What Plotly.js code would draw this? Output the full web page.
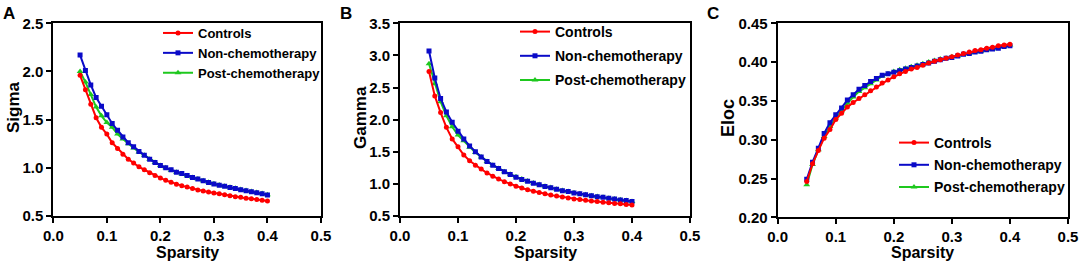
<!DOCTYPE html>
<html>
<head>
<meta charset="utf-8">
<script src="https://cdn.plot.ly/plotly-3.0.1.min.js"></script>
<style>html,body{margin:0;padding:0;background:#fff;}#chart{width:1084px;height:267px;}</style>
</head>
<body>
<div id="chart"></div>
<script>
// ---- data ----
const sparsity = [0.05,0.06,0.07,0.08,0.09,0.10,0.11,0.12,0.13,0.14,0.15,0.16,0.17,0.18,0.19,0.20,0.21,0.22,0.23,0.24,0.25,0.26,0.27,0.28,0.29,0.30,0.31,0.32,0.33,0.34,0.35,0.36,0.37,0.38,0.39,0.40];
const groupNames = ["Controls", "Non-chemotherapy", "Post-chemotherapy"];

const sigmaControls = [1.96,1.81,1.66,1.52,1.42,1.35,1.26,1.20,1.14,1.09,1.05,1.01,0.98,0.95,0.92,0.895,0.87,0.85,0.83,0.815,0.80,0.785,0.77,0.76,0.75,0.74,0.73,0.72,0.71,0.70,0.695,0.685,0.68,0.67,0.663,0.655];
const sigmaNonChemo = [2.17,2.01,1.86,1.73,1.64,1.55,1.46,1.39,1.32,1.26,1.22,1.17,1.13,1.09,1.055,1.025,1.00,0.98,0.955,0.94,0.92,0.90,0.883,0.867,0.848,0.832,0.82,0.808,0.796,0.785,0.773,0.762,0.752,0.742,0.73,0.718];
const sigmaPostChemo = [2.00,1.89,1.76,1.63,1.54,1.47,1.42,1.35,1.30,1.25,1.205,1.165,1.13,1.09,1.055,1.025,1.00,0.975,0.955,0.935,0.918,0.90,0.883,0.867,0.85,0.835,0.822,0.81,0.798,0.787,0.776,0.765,0.755,0.745,0.733,0.72];

const gammaControls = [2.75,2.37,2.11,1.88,1.70,1.58,1.45,1.36,1.29,1.23,1.17,1.12,1.075,1.035,1.00,0.965,0.935,0.91,0.885,0.865,0.845,0.825,0.81,0.795,0.78,0.765,0.755,0.745,0.735,0.725,0.715,0.705,0.695,0.69,0.68,0.67];
const gammaNonChemo = [3.07,2.65,2.33,2.12,1.96,1.82,1.70,1.59,1.50,1.42,1.35,1.29,1.24,1.19,1.145,1.105,1.07,1.04,1.01,0.985,0.96,0.94,0.915,0.895,0.88,0.86,0.845,0.83,0.815,0.80,0.79,0.775,0.765,0.75,0.74,0.725];
const gammaPostChemo = [2.87,2.56,2.28,2.06,1.89,1.76,1.67,1.57,1.49,1.42,1.35,1.29,1.24,1.19,1.15,1.11,1.075,1.045,1.015,0.99,0.965,0.942,0.918,0.898,0.88,0.862,0.846,0.83,0.816,0.802,0.79,0.777,0.765,0.752,0.74,0.727];

const elocControls = [0.246,0.269,0.286,0.302,0.313,0.326,0.334,0.342,0.348,0.353,0.358,0.363,0.368,0.373,0.377,0.381,0.385,0.388,0.391,0.393,0.396,0.399,0.401,0.403,0.405,0.407,0.409,0.411,0.413,0.415,0.416,0.418,0.419,0.421,0.422,0.423];
const elocNonChemo = [0.249,0.271,0.289,0.308,0.322,0.332,0.341,0.351,0.358,0.365,0.370,0.375,0.379,0.383,0.385,0.387,0.389,0.391,0.393,0.395,0.397,0.399,0.401,0.403,0.405,0.406,0.408,0.410,0.411,0.413,0.414,0.416,0.417,0.418,0.420,0.421];
const elocPostChemo = [0.242,0.268,0.287,0.304,0.317,0.328,0.337,0.347,0.355,0.362,0.367,0.372,0.377,0.382,0.385,0.388,0.390,0.392,0.394,0.396,0.398,0.400,0.402,0.404,0.405,0.407,0.408,0.410,0.411,0.413,0.414,0.416,0.417,0.419,0.420,0.422];

const xTicks = [0.0,0.1,0.2,0.3,0.4,0.5];
const sigmaTicks = [0.5,1.0,1.5,2.0,2.5];
const gammaTicks = [0.5,1.0,1.5,2.0,2.5,3.0,3.5];
const elocTicks = [0.20,0.25,0.30,0.35,0.40,0.45];

// ---- styling ----
const FONT = "Liberation Sans, Arial, sans-serif";
const W = 1084, H = 267;
const styles = [
  {color:"#ff0000", symbol:"circle", size:5, rank:1},
  {color:"#0a0ac8", symbol:"square", size:5, rank:2},
  {color:"#1ec81e", symbol:"triangle-up", size:6, rank:3}
];
const drawOrder = [2,1,0];

const panels = [
  {ys:[sigmaControls,sigmaNonChemo,sigmaPostChemo], ax:"", legend:"legend"},
  {ys:[gammaControls,gammaNonChemo,gammaPostChemo], ax:"2", legend:"legend2"},
  {ys:[elocControls,elocNonChemo,elocPostChemo], ax:"3", legend:"legend3"}
];

const traces = [];
panels.forEach((p, pi) => {
  drawOrder.forEach(i => {
    const s = styles[i];
    traces.push({
      type:"scatter", mode:"lines+markers",
      x: sparsity, y: p.ys[i], name: groupNames[i],
      xaxis:"x"+p.ax, yaxis:"y"+p.ax, legend:p.legend, legendrank:s.rank,
      legendgroup:"p"+pi+"g"+i,
      line:{color:s.color, width:2},
      marker:{color:s.color, symbol:s.symbol, size:s.size},
      hoverinfo:"skip"
    });
  });
});

function px(v){return v/W;}
function py(v){return 1 - v/H;}

const tickFont = {family:FONT, size:15, color:"#000", weight:"bold"};
function xa(l, r){
  return {domain:[px(l),px(r)], range:[0,0.5], tickvals:xTicks, tickformat:".1f",
    showline:true, mirror:true, linewidth:2, linecolor:"#000", ticks:"outside", ticklen:5, tickwidth:2, tickcolor:"#000",
    showgrid:false, zeroline:false, tickfont:tickFont, fixedrange:true};
}
function ya(t, b, range, tv, fmt, anchor){
  return {domain:[py(b),py(t)], range:range, tickvals:tv, tickformat:fmt,
    showline:true, mirror:true, linewidth:2, linecolor:"#000", ticks:"outside", ticklen:5, tickwidth:2, tickcolor:"#000",
    showgrid:false, zeroline:false, tickfont:tickFont, fixedrange:true, anchor:anchor};
}

function leg(x, y, size, gap){
  return {x:px(x), y:py(y), xanchor:"left", yanchor:"top", bgcolor:"rgba(0,0,0,0)",
    font:{family:FONT, size:size, color:"#000", weight:"bold"}, itemwidth:30, tracegroupgap:gap, traceorder:"grouped"};
}

function ann(text, x, y, size, angle, xanchor){
  return {text:text, x:px(x), y:py(y), xref:"paper", yref:"paper", showarrow:false,
    xanchor:xanchor||"center", yanchor:"middle", textangle:angle||0,
    font:{family:FONT, size:size, color:"#000", weight:"bold"}};
}

const layout = {
  width:W, height:H, margin:{l:0,r:0,t:0,b:0}, paper_bgcolor:"#fff", plot_bgcolor:"#fff",
  showlegend:true,
  xaxis: Object.assign(xa(53.3,321), {anchor:"y"}),
  yaxis: ya(23.3,216,[0.5,2.5],sigmaTicks,".1f","x"),
  xaxis2: Object.assign(xa(400,690), {anchor:"y2"}),
  yaxis2: ya(23.3,216,[0.5,3.5],gammaTicks,".1f","x2"),
  xaxis3: Object.assign(xa(777.7,1068), {anchor:"y3"}),
  yaxis3: ya(23.3,217.3,[0.2,0.45],elocTicks,".2f","x3"),
  legend: leg(158, 18, 13, 0),
  legend2: leg(515, 16, 14, 3),
  legend3: leg(894, 127, 14, 1),
  annotations: [
    ann("A", 9, 13, 17), ann("B", 346, 13, 17), ann("C", 713, 13, 17),
    ann("Sigma", 13, 107, 17, -90), ann("Gamma", 361, 118, 17, -90), ann("Eloc", 728, 118, 18, -90),
    ann("Sparsity", 187, 252, 16), ann("Sparsity", 545, 252, 16), ann("Sparsity", 922, 252, 16)
  ]
};

Plotly.newPlot("chart", traces, layout, {displayModeBar:false, staticPlot:true});
</script>
</body>
</html>
